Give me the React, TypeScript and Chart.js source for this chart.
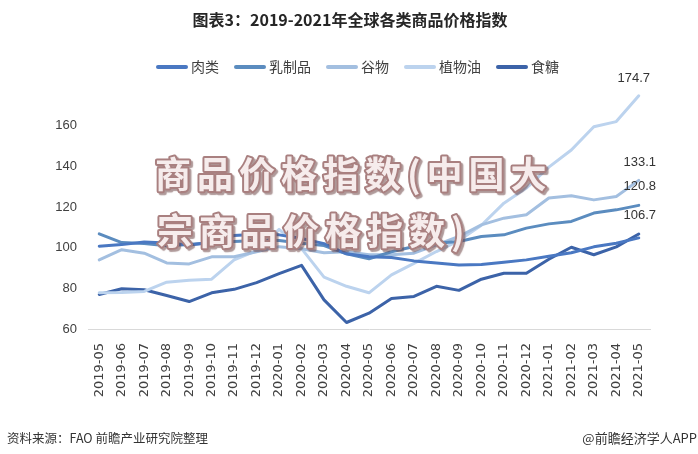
import React, { useEffect, useRef } from 'react';
import { Chart, registerables } from 'chart.js';

Chart.register(...registerables);

const months = [
  '2019-05', '2019-06', '2019-07', '2019-08', '2019-09', '2019-10', '2019-11', '2019-12',
  '2020-01', '2020-02', '2020-03', '2020-04', '2020-05', '2020-06', '2020-07', '2020-08',
  '2020-09', '2020-10', '2020-11', '2020-12', '2021-01', '2021-02', '2021-03', '2021-04', '2021-05',
];

const seriesNames = ['肉类', '乳制品', '谷物', '植物油', '食糖'];

const meat = [100.7, 101.5, 102.8, 102.3, 101.3, 102.5, 106.0, 106.6, 106.3, 104.5, 102.0, 97.0, 95.5,
  95.2, 93.5, 92.5, 91.5, 91.7, 92.8, 94.0, 95.8, 97.5, 100.4, 102.2, 104.8];
const dairy = [106.8, 102.5, 102.0, 101.0, 101.5, 102.5, 103.0, 103.5, 103.5, 102.2, 101.0, 97.0, 94.5,
  98.0, 100.6, 102.2, 103.0, 105.5, 106.3, 109.6, 111.7, 112.9, 117.0, 118.6, 120.8];
const cereals = [94.0, 99.0, 97.3, 92.5, 92.0, 95.5, 95.5, 98.0, 100.5, 99.5, 97.5, 98.0, 96.5,
  96.5, 97.3, 101.4, 105.5, 111.2, 114.5, 116.2, 124.4, 125.5, 123.5, 125.2, 133.1];
const vegOil = [77.8, 78.0, 78.5, 83.0, 84.0, 84.5, 94.0, 98.5, 109.0, 99.5, 85.5, 81.0, 77.8,
  86.6, 92.3, 98.1, 103.5, 111.0, 121.9, 129.3, 139.6, 148.0, 159.5, 162.0, 174.7];
const sugar = [77.0, 79.8, 79.3, 76.5, 73.5, 77.8, 79.5, 82.8, 87.2, 91.3, 74.3, 63.2, 67.8,
  75.0, 76.0, 81.0, 79.0, 84.5, 87.4, 87.4, 94.3, 100.2, 96.5, 100.4, 106.7];

const seriesValues = [meat, dairy, cereals, vegOil, sugar];
const endLabelTexts = ['', '120.8', '133.1', '174.7', '106.7'];

const yMin = 60;
const yMax = 180;
const yStep = 20;

const titleText = '图表3：2019-2021年全球各类商品价格指数';
const sourceText = '资料来源：FAO 前瞻产业研究院整理';
const brandText = '@前瞻经济学人APP';
const overlayLines = ['商品价格指数(中国大', '宗商品价格指数)'];

// styles
const colors = ['#4a78c2', '#5b8cbf', '#a3bfe0', '#bcd3ee', '#3c63a8'];
const endLabelOffsets = [
  { dx: 0, dy: 0 },
  { dx: 1, dy: -19 },
  { dx: 1, dy: -18 },
  { dx: -5, dy: -17 },
  { dx: 1, dy: -19 },
];
const CJK = '"Noto Sans CJK SC", "Noto Sans", sans-serif';

const decorPlugin = {
  id: 'decor',
  afterDatasetsDraw(chart: any) {
    const ctx = chart.ctx;
    ctx.save();
    ctx.font = '13px "Liberation Sans", Arial, sans-serif';
    ctx.fillStyle = '#333333';
    ctx.textAlign = 'center';
    ctx.textBaseline = 'middle';
    chart.data.datasets.forEach((ds: any, i: number) => {
      const txt = endLabelTexts[i];
      if (!txt) return;
      const meta = chart.getDatasetMeta(i);
      const pt = meta.data[meta.data.length - 1];
      const off = endLabelOffsets[i];
      ctx.fillText(txt, pt.x + off.dx, pt.y + off.dy);
    });
    ctx.restore();
  },
  afterDraw(chart: any) {
    const ctx = chart.ctx;
    ctx.save();
    // title
    ctx.font = `bold 16px ${CJK}`;
    ctx.fillStyle = '#262626';
    ctx.textAlign = 'center';
    ctx.textBaseline = 'middle';
    ctx.fillText(titleText, 350, 20);

    // legend
    ctx.font = `14px ${CJK}`;
    const sample = 32;
    const gap = 3;
    const spacing = 15;
    const widths = chart.data.datasets.map((ds: any) => sample + gap + ctx.measureText(ds.label).width);
    const total = widths.reduce((a: number, b: number) => a + b, 0) + spacing * (widths.length - 1);
    let x = 357.5 - total / 2;
    const ly = 67;
    chart.data.datasets.forEach((ds: any, i: number) => {
      ctx.strokeStyle = ds.borderColor;
      ctx.lineWidth = 4;
      ctx.lineCap = 'round';
      ctx.beginPath();
      ctx.moveTo(x + 2, ly);
      ctx.lineTo(x + sample - 2, ly);
      ctx.stroke();
      ctx.fillStyle = '#404040';
      ctx.textAlign = 'left';
      ctx.fillText(ds.label, x + sample + gap, ly);
      x += widths[i] + spacing;
    });

    // footer
    ctx.font = `12.5px ${CJK}`;
    ctx.fillStyle = '#333333';
    ctx.textAlign = 'left';
    ctx.fillText(sourceText, 7, 438);
    ctx.textAlign = 'right';
    ctx.font = `13px ${CJK}`;
    ctx.fillText(brandText, 697, 438);

    // overlay text
    ctx.font = `bold 36px ${CJK}`;
    ctx.textAlign = 'left';
    (ctx as any).letterSpacing = '6px';
    const starts = [{ x: 155, y: 174 }, { x: 157, y: 231 }];
    overlayLines.forEach((line, i) => {
      const p = starts[i];
      ctx.save();
      ctx.shadowColor = 'rgba(110, 70, 70, 0.55)';
      ctx.shadowOffsetX = 2;
      ctx.shadowOffsetY = 2;
      ctx.shadowBlur = 1;
      ctx.lineJoin = 'round';
      ctx.strokeStyle = '#a98080';
      ctx.lineWidth = 4;
      ctx.strokeText(line, p.x, p.y);
      ctx.restore();
      ctx.fillStyle = '#f6ecec';
      ctx.fillText(line, p.x, p.y);
    });
    ctx.restore();
  },
};

export default function App() {
  const canvasRef = useRef<HTMLCanvasElement | null>(null);

  useEffect(() => {
    document.body.style.margin = '0';
    const canvas = canvasRef.current;
    if (!canvas) return;
    const chart = new Chart(canvas, {
      type: 'line',
      data: {
        labels: months,
        datasets: seriesNames.map((name, i) => ({
          label: name,
          data: seriesValues[i],
          borderColor: colors[i],
          backgroundColor: colors[i],
          borderWidth: 3,
          pointRadius: 0,
          pointHoverRadius: 0,
          tension: 0,
          fill: false,
          borderCapStyle: 'round',
          borderJoinStyle: 'round',
        })),
      },
      options: {
        responsive: false,
        animation: false,
        devicePixelRatio: 1,
        layout: { padding: { top: 85, right: 48, left: 0, bottom: 0 } },
        plugins: {
          legend: { display: false },
          title: { display: false },
          tooltip: { enabled: false },
        },
        scales: {
          x: {
            offset: true,
            grid: { display: false, drawTicks: false },
            border: { display: true, color: '#d9d9d9', width: 1 },
            ticks: {
              autoSkip: false,
              maxRotation: 90,
              minRotation: 90,
              padding: 14,
              color: '#404040',
              font: { family: '"DejaVu Sans", sans-serif', size: 13 },
            },
            afterFit: (s: any) => { s.height = 125; },
          },
          y: {
            min: yMin,
            max: yMax,
            grid: { display: false, drawTicks: false },
            border: { display: false },
            ticks: {
              stepSize: yStep,
              padding: 11,
              color: '#404040',
              font: { family: '"Liberation Sans", Arial, sans-serif', size: 13 },
              callback: (v: any) => (Number(v) >= yMax ? '' : String(v)),
            },
            afterFit: (s: any) => { s.width = 88; },
          },
        },
      },
      plugins: [decorPlugin],
    });
    return () => chart.destroy();
  }, []);

  return (
    <div style={{ width: 698, height: 454, position: 'relative', background: '#ffffff' }}>
      <canvas ref={canvasRef} width={698} height={454} style={{ display: 'block', width: 698, height: 454 }} />
    </div>
  );
}
